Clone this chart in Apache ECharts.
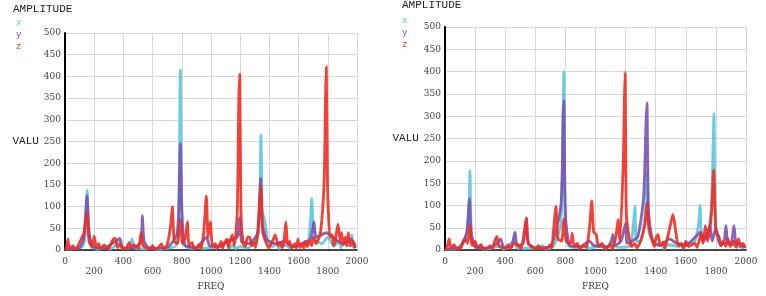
<!DOCTYPE html>
<html>
<head>
<meta charset="utf-8">
<script src="https://cdn.jsdelivr.net/npm/echarts@6/dist/echarts.min.js"></script>
<style>
  html, body { margin: 0; padding: 0; background: #fff; }
  #main { width: 766px; height: 296px; }
</style>
</head>
<body>
<div id="main"></div>
<script>
// tick values of both frequency axes
var freqTicks = [0, 200, 400, 600, 800, 1000, 1200, 1400, 1600, 1800, 2000];
var seriesNames = ['x', 'y', 'z'];
var seriesColors = ['#5cc8d6', '#7a52b3', '#ef2c24'];

// left spectrum, [freq, amplitude]
var leftX = [[0,2],[60,4],[120,8],[140,40],[152,138],[165,30],[185,5],[200,10],[215,2],[240,3],[280,8],[300,2],[330,6],[372,20],[390,4],[440,5],[460,25],[480,4],[560,3],[600,8],[620,2],[700,4],[760,10],[780,120],[790,415],[800,100],[820,10],[870,4],[910,6],[925,15],[940,4],[1020,6],[1070,12],[1100,18],[1130,5],[1150,12],[1165,3],[1200,8],[1250,5],[1320,30],[1335,120],[1342,265],[1352,90],[1370,65],[1390,20],[1420,8],[1450,15],[1465,3],[1480,12],[1520,10],[1540,5],[1600,10],[1660,12],[1680,60],[1690,118],[1700,55],[1720,20],[1760,15],[1800,30],[1840,10],[1880,20],[1890,5],[1900,15],[1950,10],[1965,35],[1975,8],[1985,3]];
var leftY = [[0,2],[100,6],[130,30],[150,125],[165,40],[190,8],[260,4],[345,20],[375,27],[395,6],[470,5],[520,20],[530,80],[542,20],[580,4],[700,6],[770,40],[785,180],[790,245],[800,90],[820,12],[900,5],[970,30],[990,10],[1060,8],[1110,20],[1180,30],[1195,75],[1210,20],[1260,15],[1320,40],[1340,165],[1352,60],[1380,25],[1440,15],[1500,20],[1560,8],[1620,15],[1680,25],[1705,65],[1720,30],[1790,40],[1850,25],[1900,15],[1960,25],[1985,5]];
var leftZ = [[0,0],[10,5],[20,25],[30,3],[55,10],[65,2],[80,4],[110,25],[130,40],[150,85],[165,20],[185,8],[200,32],[215,6],[230,15],[245,4],[270,12],[285,3],[300,4],[330,25],[345,27],[360,6],[380,14],[395,3],[420,4],[440,18],[455,4],[470,12],[490,8],[505,3],[520,40],[535,10],[580,3],[600,10],[615,2],[640,6],[660,14],[675,3],[700,12],[725,60],[735,100],[748,20],[770,15],[790,70],[805,15],[825,30],[838,65],[850,10],[870,18],[885,4],[900,5],[915,12],[930,3],[950,40],[968,125],[980,30],[995,65],[1010,10],[1030,15],[1040,3],[1050,6],[1070,20],[1080,4],[1090,15],[1110,25],[1120,5],[1130,20],[1145,35],[1160,10],[1180,90],[1190,340],[1197,405],[1205,90],[1220,15],[1235,8],[1250,30],[1265,30],[1280,10],[1295,18],[1305,6],[1320,40],[1340,145],[1355,40],[1380,15],[1395,5],[1420,20],[1440,35],[1460,10],[1475,18],[1488,5],[1500,20],[1513,65],[1525,15],[1540,20],[1550,5],[1575,15],[1585,4],[1595,25],[1610,6],[1625,15],[1635,4],[1645,20],[1660,8],[1675,20],[1690,10],[1700,30],[1720,15],[1750,40],[1775,160],[1785,360],[1790,422],[1798,150],[1815,30],[1830,35],[1840,10],[1850,20],[1870,60],[1885,20],[1895,40],[1905,12],[1920,30],[1930,10],[1940,40],[1955,10],[1975,20],[1990,5]];

// right spectrum, [freq, amplitude]
var rightX = [[0,2],[100,5],[140,30],[160,100],[166,178],[175,40],[200,6],[240,10],[255,2],[300,4],[370,10],[390,2],[460,20],[480,4],[600,4],[650,10],[665,2],[720,8],[770,60],[785,320],[790,400],[798,80],[820,10],[900,5],[940,12],[955,3],[1000,8],[1050,12],[1065,3],[1100,15],[1150,6],[1230,10],[1252,60],[1262,98],[1272,20],[1300,20],[1330,80],[1342,175],[1355,40],[1400,10],[1440,15],[1455,3],[1480,12],[1560,8],[1610,15],[1660,20],[1685,60],[1695,100],[1705,30],[1740,25],[1770,100],[1782,240],[1787,305],[1795,90],[1815,20],[1870,15],[1930,10],[1985,5]];
var rightY = [[0,2],[100,8],[145,40],[162,115],[175,35],[200,8],[290,5],[345,15],[370,25],[390,6],[440,8],[465,40],[480,10],[520,15],[540,72],[555,15],[600,5],[700,8],[770,100],[785,300],[790,335],[800,80],[830,10],[900,8],[960,20],[990,10],[1080,8],[1105,20],[1115,35],[1128,10],[1170,20],[1200,60],[1212,15],[1280,30],[1320,120],[1335,280],[1342,330],[1352,90],[1380,20],[1430,10],[1490,25],[1540,15],[1600,10],[1650,25],[1700,40],[1720,20],[1745,40],[1760,55],[1775,20],[1800,50],[1830,10],[1855,20],[1867,55],[1880,15],[1905,20],[1920,55],[1935,15],[1960,15],[1990,5]];
var rightZ = [[0,0],[15,8],[27,25],[40,4],[60,12],[75,3],[100,3],[120,18],[133,25],[150,15],[166,55],[180,10],[200,20],[215,5],[240,12],[255,3],[280,4],[300,10],[315,3],[330,20],[345,30],[360,8],[400,5],[420,12],[435,3],[460,15],[490,10],[505,3],[520,25],[540,70],[552,15],[600,3],[620,10],[635,3],[680,5],[700,12],[710,5],[720,40],[737,98],[750,25],[775,20],[790,70],[805,20],[835,15],[845,38],[858,8],[880,15],[895,3],[920,10],[940,6],[960,50],[975,110],[988,40],[1005,35],[1020,8],[1045,15],[1060,4],[1080,6],[1100,12],[1112,3],[1125,15],[1140,40],[1150,68],[1162,20],[1185,200],[1192,335],[1197,398],[1205,80],[1225,25],[1240,8],[1260,15],[1275,5],[1300,20],[1330,60],[1342,105],[1355,50],[1380,20],[1390,8],[1400,25],[1415,35],[1430,10],[1450,18],[1460,5],[1470,15],[1500,60],[1515,80],[1530,50],[1550,10],[1570,15],[1585,4],[1600,20],[1620,8],[1640,12],[1660,15],[1675,6],[1700,35],[1715,15],[1730,55],[1745,20],[1770,80],[1785,180],[1800,40],[1820,30],[1835,10],[1850,20],[1865,8],[1880,25],[1895,8],[1920,20],[1935,6],[1950,25],[1965,8],[1980,15],[1995,5]];

var chart = echarts.init(document.getElementById('main'), null, { renderer: 'canvas' });

var tickFont = 'DejaVu Serif';
var monoFont = 'Liberation Mono';

function makeXAxis(gridIndex) {
	return {
		type: 'value',
		gridIndex: gridIndex,
		min: freqTicks[0],
		max: freqTicks[freqTicks.length - 1],
		interval: freqTicks[1] - freqTicks[0],
		name: 'FREQ',
		nameLocation: 'middle',
		nameGap: 26,
		nameTextStyle: { fontFamily: tickFont, fontSize: 9, color: '#333' },
		axisLine: { onZero: false, lineStyle: { color: '#111', width: 1.5 } },
		axisTick: { show: false },
		splitLine: { show: true, lineStyle: { color: '#d8d8d8', width: 1 } },
		axisLabel: {
			fontFamily: tickFont, fontSize: 9, color: '#444', margin: 7, lineHeight: 10,
			showMinLabel: true, showMaxLabel: true,
			// staggered labels: every other one goes on a second row
			formatter: function (val) {
				var i = freqTicks.indexOf(val);
				return i % 2 ? '\n' + val : '' + val;
			}
		}
	};
}

function makeYAxis(gridIndex) {
	return {
		type: 'value',
		gridIndex: gridIndex,
		min: 0,
		max: 500,
		interval: 50,
		name: 'VALU',
		nameLocation: 'middle',
		nameRotate: 0,
		nameGap: 32,
		nameTextStyle: { fontFamily: monoFont, fontSize: 11, color: '#222', align: 'center' },
		axisLine: { show: true, lineStyle: { color: '#000', width: 2 } },
		axisTick: { show: false },
		splitLine: { show: true, lineStyle: { color: '#d8d8d8', width: 1 } },
		axisLabel: { fontFamily: tickFont, fontSize: 9, color: '#444', margin: 4 }
	};
}

function makeLine(name, data, idx, colorIdx) {
	return {
		name: name,
		type: 'line',
		xAxisIndex: idx,
		yAxisIndex: idx,
		data: data,
		showSymbol: false,
		smooth: 0.2,
		color: seriesColors[colorIdx],
		lineStyle: { width: 2.8, opacity: 0.9 },
		animation: false
	};
}

var legendData = [];
for (var i = 0; i < seriesNames.length; i++) {
	legendData.push({ name: seriesNames[i], textStyle: { color: seriesColors[i] } });
}

function makeLegend(left, top) {
	return {
		left: left,
		top: top,
		orient: 'vertical',
		itemWidth: 0,
		itemHeight: 0,
		itemGap: 3,
		padding: 0,
		selectedMode: false,
		textStyle: { fontFamily: monoFont, fontSize: 9 },
		data: legendData
	};
}

chart.setOption({
	animation: false,
	title: [
		{ text: 'AMPLITUDE', left: 13, top: 4, padding: 0, textStyle: { fontFamily: monoFont, fontSize: 11, fontWeight: 'normal', color: '#222' } },
		{ text: 'AMPLITUDE', left: 402, top: 0, padding: 0, textStyle: { fontFamily: monoFont, fontSize: 11, fontWeight: 'normal', color: '#222' } }
	],
	legend: [makeLegend(10, 18), makeLegend(396, 16)],
	grid: [
		{ left: 65, top: 33, width: 292, height: 220 },
		{ left: 445, top: 27, width: 301, height: 227 }
	],
	xAxis: [makeXAxis(0), makeXAxis(1)],
	yAxis: [makeYAxis(0), makeYAxis(1)],
	series: [
		makeLine('x', leftX, 0, 0),
		makeLine('y', leftY, 0, 1),
		makeLine('z', leftZ, 0, 2),
		makeLine('x', rightX, 1, 0),
		makeLine('y', rightY, 1, 1),
		makeLine('z', rightZ, 1, 2)
	]
});
</script>
</body>
</html>
